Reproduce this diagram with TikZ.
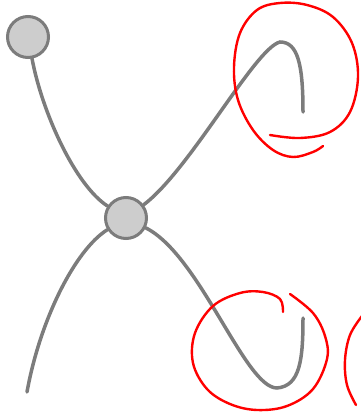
\documentclass[tikz,border=0pt]{standalone}
\usepackage{xcolor}
\usepackage{tikz}
\usetikzlibrary{calc}
\definecolor{strandgrey}{HTML}{7C7C7C}
\definecolor{beadfill}{HTML}{CDCDCD}
\definecolor{markred}{HTML}{FF0000}

\begin{document}
\begin{tikzpicture}[
    x=1pt, y=-1pt,
    bead/.style={circle, draw=strandgrey, fill=beadfill, line width=3pt, minimum size=41pt, inner sep=0pt},
    strand/.style={draw=strandgrey, line width=3.5pt, line cap=round},
    ring/.style={draw=markred, line width=2.4pt, line cap=round}
]
\useasboundingbox (0,0) rectangle (360,412);
\node[bead] (tl) at (28,37) {};
\node[bead] (mid) at (126,218) {};
\coordinate (hookup) at (303,112);
\coordinate (hookdown) at (303,318);
\coordinate (foot) at (27,392);

\draw[strand] (tl) .. controls (42,112) and (75,185) .. (mid);
\draw[strand] (mid) .. controls (190,170) and (255,48) .. (280,42)
    .. controls (298,42) and (303,65) .. (hookup);
\draw[strand] (mid) .. controls (75,250) and (40,320) .. (foot);
\draw[strand] (mid) .. controls (200,255) and (245,388) .. (277,388)
    .. controls (300,386) and (303,360) .. (hookdown);

\draw[ring] plot[smooth, tension=0.6] coordinates {(270,135) (300,138) (330,132) (350,112) (358,77) (352,43) (333,17) (307,5) (280,3) (257,10) (240,33) (234,67) (238,100) (253,130) (273,150) (293,157) (313,152) (323,146)};
\draw[ring] plot[smooth, tension=0.6] coordinates {(283,312) (280,299) (263,292) (240,293) (213,306) (195,333) (193,363) (207,389) (230,404) (257,410) (287,406) (313,389) (327,359) (325,336) (313,313) (290,294)};
\draw[ring] plot[smooth, tension=0.6] coordinates {(362,316) (350,335) (345,360) (347,385) (356,405)};
\end{tikzpicture}
\end{document}
